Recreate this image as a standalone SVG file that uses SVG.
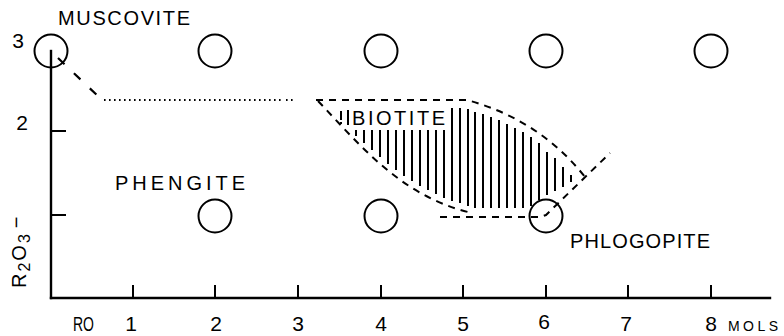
<svg xmlns="http://www.w3.org/2000/svg" width="784" height="336" viewBox="0 0 784 336">
  <style>
    .bg { fill: #ffffff; }
    .ax { stroke: #000; stroke-width: 2.4; fill: none; stroke-linecap: square; }
    .tk { stroke: #000; stroke-width: 2; fill: none; }
    .node { stroke: #000; stroke-width: 2; fill: none; }
    .dash { stroke: #000; stroke-width: 2; fill: none; stroke-dasharray: 7 6; }
    .dashlong { stroke: #000; stroke-width: 2.2; fill: none; stroke-dasharray: 9 13; }
    .dot { stroke: #000; stroke-width: 2; fill: none; stroke-dasharray: 1.6 3.4; }
    .hatch line { stroke: #000; stroke-width: 2; }
    .lbl { font-family: "Liberation Sans", Arial, sans-serif; font-size: 20px; fill: #000; }
    .num { font-family: "Liberation Sans", Arial, sans-serif; font-size: 21px; fill: #000; text-anchor: middle; }
    .small { font-family: "Liberation Sans", Arial, sans-serif; font-size: 14px; fill: #000; }
  </style>
  <rect class="bg" x="0" y="0" width="784" height="336"/>

  <g id="axes">
    <line class="ax" x1="51" y1="51" x2="51" y2="298"/>
    <line class="ax" x1="51" y1="298" x2="770" y2="298"/>
    <line class="tk" x1="51" y1="131" x2="66" y2="131"/>
    <line class="tk" x1="51" y1="215" x2="66" y2="215"/>
    <line class="tk" x1="133" y1="285" x2="133" y2="298"/>
    <line class="tk" x1="215" y1="285" x2="215" y2="298"/>
    <line class="tk" x1="298" y1="285" x2="298" y2="298"/>
    <line class="tk" x1="381" y1="285" x2="381" y2="298"/>
    <line class="tk" x1="463" y1="285" x2="463" y2="298"/>
    <line class="tk" x1="546" y1="285" x2="546" y2="298"/>
    <line class="tk" x1="628" y1="285" x2="628" y2="298"/>
    <line class="tk" x1="711" y1="285" x2="711" y2="298"/>
    <text class="num" x="18" y="48">3</text>
    <text class="num" x="22" y="130">2</text>
    <text class="lbl" x="73" y="331" textLength="21" lengthAdjust="spacingAndGlyphs">RO</text>
    <text class="num" x="131" y="331">1</text>
    <text class="num" x="216" y="331">2</text>
    <text class="num" x="298" y="331">3</text>
    <text class="num" x="381" y="331">4</text>
    <text class="num" x="463" y="331">5</text>
    <text class="num" x="544" y="329">6</text>
    <text class="num" x="626" y="331">7</text>
    <text class="num" x="711" y="331">8</text>
    <text class="small" x="728" y="331" textLength="50" lengthAdjust="spacing">MOLS</text>
    <text class="lbl" letter-spacing="2" transform="translate(26,288) rotate(-90)">R<tspan font-size="16" dy="4">2</tspan><tspan dy="-4">O</tspan><tspan font-size="16" dy="4">3</tspan><tspan dy="-7" dx="4">−</tspan></text>
  </g>

  <g id="muscovite">
    <circle class="node" cx="51" cy="51" r="16.5"/>
    <text class="lbl" x="58" y="25" textLength="132" lengthAdjust="spacing">MUSCOVITE</text>
  </g>
  <g id="node-2-3"><circle class="node" cx="215" cy="51" r="16.5"/></g>
  <g id="node-4-3"><circle class="node" cx="381" cy="51" r="16.5"/></g>
  <g id="node-6-3"><circle class="node" cx="546" cy="51" r="16.5"/></g>
  <g id="node-8-3"><circle class="node" cx="711" cy="51" r="16.5"/></g>

  <g id="phengite">
    <circle class="node" cx="215" cy="216" r="16.5"/>
    <text class="lbl" x="115" y="190" textLength="130" lengthAdjust="spacing">PHENGITE</text>
  </g>
  <g id="node-4-1"><circle class="node" cx="381" cy="216" r="16.5"/></g>
  <g id="phlogopite">
    <circle class="node" cx="546" cy="216" r="16.5"/>
    <text class="lbl" x="570" y="248" textLength="140" lengthAdjust="spacing">PHLOGOPITE</text>
  </g>

  <g id="biotite">
    <text class="lbl" x="352" y="125" textLength="93" lengthAdjust="spacing">BIOTITE</text>
    <g class="hatch">
      <line x1="341" y1="111" x2="341" y2="120"/>
      <line x1="341" y1="122" x2="341" y2="124"/>
      <line x1="348" y1="110" x2="348" y2="125"/>
      <line x1="356" y1="130" x2="356" y2="136"/>
      <line x1="364" y1="130" x2="364" y2="143"/>
      <line x1="372" y1="130" x2="372" y2="150"/>
      <line x1="380" y1="130" x2="380" y2="157"/>
      <line x1="388" y1="130" x2="388" y2="164"/>
      <line x1="396" y1="130" x2="396" y2="170"/>
      <line x1="404" y1="130" x2="404" y2="176"/>
      <line x1="412" y1="130" x2="412" y2="181"/>
      <line x1="420" y1="130" x2="420" y2="186"/>
      <line x1="428" y1="130" x2="428" y2="190"/>
      <line x1="436" y1="130" x2="436" y2="194"/>
      <line x1="444" y1="130" x2="444" y2="198"/>
      <line x1="452" y1="108" x2="452" y2="201"/>
      <line x1="460" y1="108" x2="460" y2="203"/>
      <line x1="468" y1="109" x2="468" y2="206"/>
      <line x1="475" y1="112" x2="475" y2="208"/>
      <line x1="483" y1="114" x2="483" y2="208"/>
      <line x1="491" y1="117" x2="491" y2="208"/>
      <line x1="499" y1="120" x2="499" y2="208"/>
      <line x1="507" y1="124" x2="507" y2="208"/>
      <line x1="515" y1="128" x2="515" y2="208"/>
      <line x1="523" y1="132" x2="523" y2="208"/>
      <line x1="531" y1="137" x2="531" y2="206"/>
      <line x1="539" y1="143" x2="539" y2="200"/>
      <line x1="547" y1="152" x2="547" y2="195"/>
      <line x1="555" y1="158" x2="555" y2="191"/>
      <line x1="563" y1="167" x2="563" y2="187"/>
      <line x1="571" y1="175" x2="571" y2="182"/>
    </g>
  </g>

  <g id="connectors">
    <path class="dashlong" d="M58,58 L101,99"/>
    <path class="dot" d="M104,100 L282,100"/>
    <path class="dot" d="M286,100 L294,100"/>
    <path class="dash" d="M316,100 L467,100 Q540,120 585,177"/>
    <path class="dash" d="M318,101 C360,145 400,195 468,212"/>
    <path class="dash" d="M440,217 L540,217 L546,215 L610,153"/>
  </g>
</svg>
